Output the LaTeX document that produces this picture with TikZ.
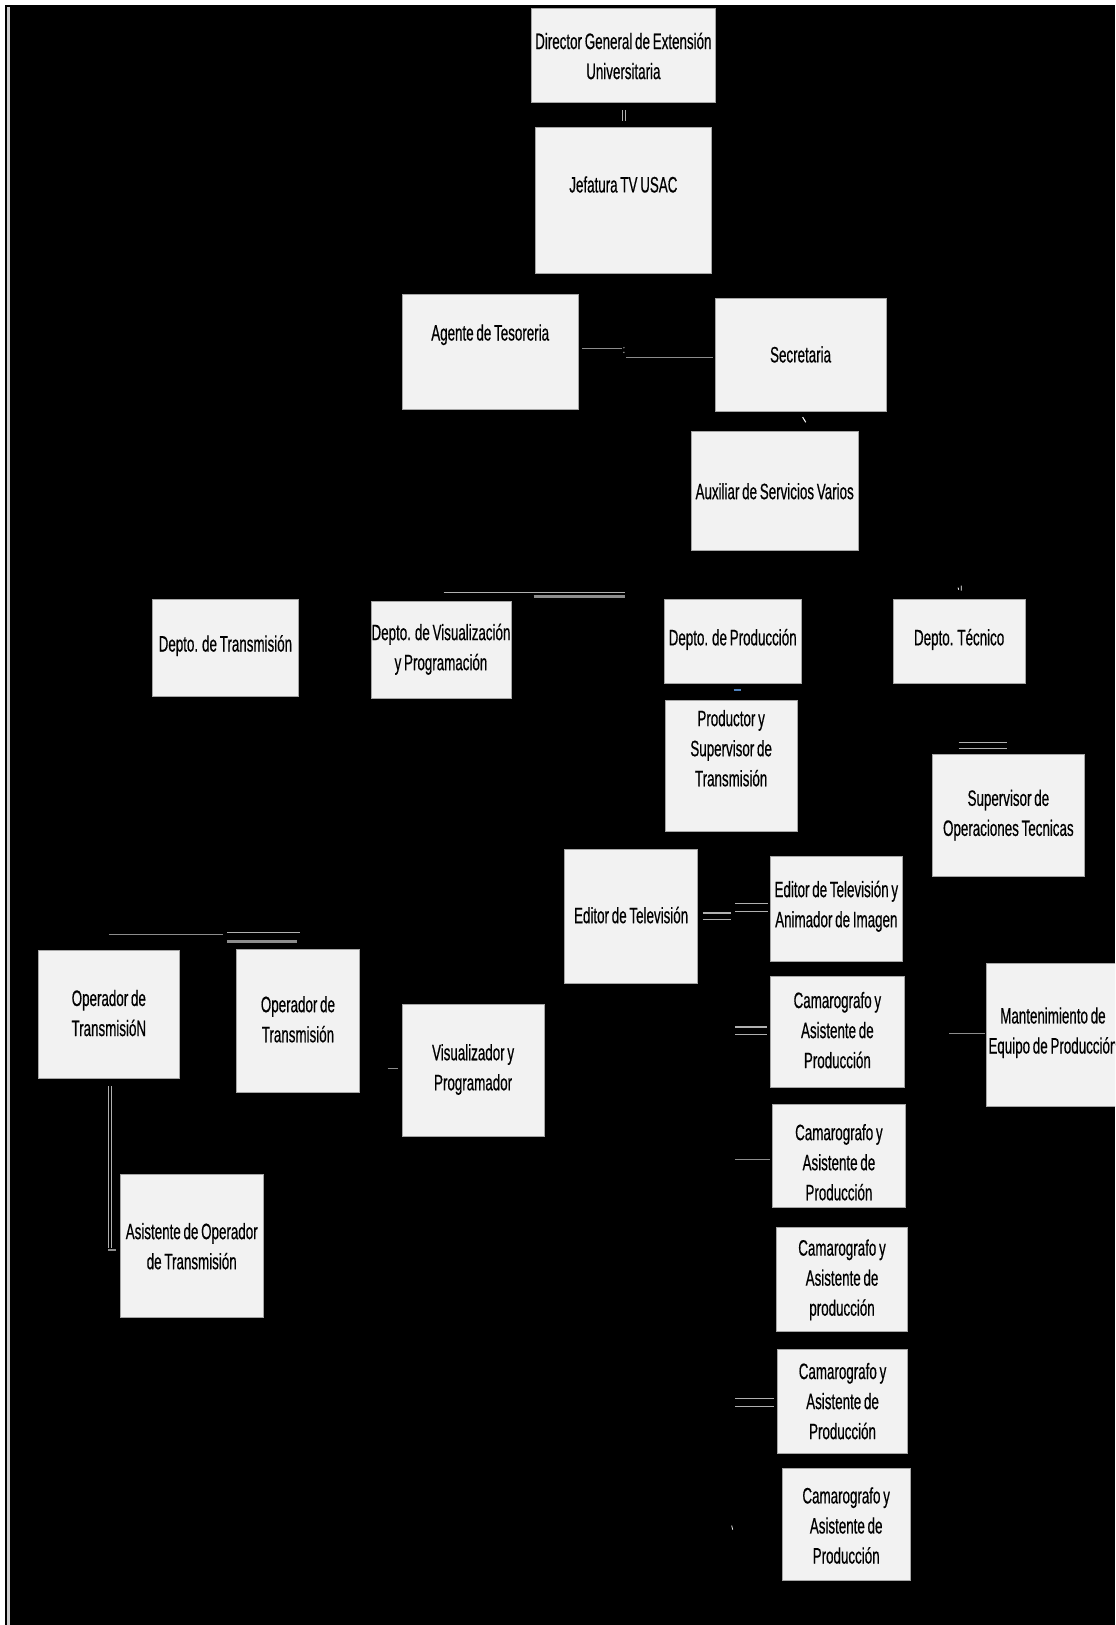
\documentclass[tikz,border=0pt]{standalone}
\usepackage{fontspec}
\setmainfont[FakeStretch=0.6,FakeBold=0.5,WordSpace=0.75]{Liberation Sans}
\usetikzlibrary{fit}
\definecolor{boxfill}{HTML}{F2F2F2}
\definecolor{boxline}{HTML}{A6A6A6}
\definecolor{fraggray}{HTML}{8C8C8C}
\definecolor{fraglight}{HTML}{B0B0B0}
\definecolor{blueish}{HTML}{4F81BD}
\tikzset{
  box/.style={draw=boxline, fill=boxfill, line width=0.8pt, inner sep=0pt, outer sep=0pt},
  txt/.style={font=\fontsize{21.5}{29}\selectfont, align=center, inner sep=0pt, text=black},
  frag/.style={draw=fraggray, line width=1.3pt},
  fraglt/.style={draw=fraglight, line width=1.1pt},
  fragthick/.style={draw=fraggray, line width=2.6pt},
  tick/.style={draw=white, line width=1pt}
}
\newcommand\orgbox[7]{%
  \node[box, fit={(#2,#3) (#4,#5)}] (#1) {};
  \node[txt] (#1t) at ({(#2+#4)/2},#6) {#7};
}
\begin{document}
\begin{tikzpicture}[x=1pt,y=-1pt]
\useasboundingbox (0,0) rectangle (1076,1568);
\clip (0,0) rectangle (1076,1568);
\fill[black] (0,0) rectangle (1076,1568);
% frame strips
\fill[white] (0,0) rectangle (1076,4.5);
\fill[white] (0,0) rectangle (4.8,1568);
\fill[black!20] (6.7,6.5) rectangle (9.3,1568);

% boxes
\orgbox{dir}{513}{8}{690}{99}{54}{Director General de Extensión\\Universitaria}
\orgbox{jef}{517}{123}{686}{264}{178}{Jefatura TV USAC}
\orgbox{age}{388}{284}{558}{395}{323}{Agente de Tesoreria}
\orgbox{sec}{690}{288}{855}{397}{342}{Secretaria}
\orgbox{aux}{667}{416}{828}{531}{474}{Auxiliar de Servicios Varios}
\orgbox{dtr}{147}{578}{288}{672}{623}{Depto. de Transmisión}
\orgbox{dvi}{358}{580}{493}{674}{626.5}{Depto. de Visualización\\y Programación}
\orgbox{dpr}{641}{578}{773}{659}{617}{Depto. de Producción}
\orgbox{dte}{862}{578}{989}{659}{617}{Depto. Técnico}
\orgbox{pro}{642}{676}{769}{802}{722}{Productor y\\Supervisor de\\Transmisión}
\orgbox{sop}{900}{728}{1046}{846}{786.5}{Supervisor de\\Operaciones Tecnicas}
\orgbox{etv}{545}{820}{673}{949}{883}{Editor de Televisión}
\orgbox{ean}{743}{826}{871}{928}{874.5}{Editor de Televisión y\\Animador de Imagen}
\orgbox{caa}{743}{942}{873}{1049}{994}{Camarografo y\\Asistente de\\Producción}
\orgbox{man}{952}{930}{1080}{1068}{996.5}{Mantenimiento de\\Equipo de Producción}
\orgbox{cab}{745}{1066}{874}{1165}{1121.5}{Camarografo y\\Asistente de\\Producción}
\orgbox{cac}{749}{1184}{876}{1285}{1235}{Camarografo y\\Asistente de\\producción}
\orgbox{cad}{750}{1302}{876}{1402}{1352}{Camarografo y\\Asistente de\\Producción}
\orgbox{cae}{755}{1417}{878}{1525}{1472}{Camarografo y\\Asistente de\\Producción}
\orgbox{opn}{37}{917}{173}{1041}{977.5}{Operador de\\TransmisióN}
\orgbox{opt}{228}{916}{347}{1054}{983.5}{Operador de\\Transmisión}
\orgbox{vis}{388}{969}{525}{1097}{1032}{Visualizador y\\Programador}
\orgbox{asi}{116}{1133}{254}{1271}{1202.5}{Asistente de Operador\\de Transmisión}

% visible connector fragments
\draw[fraglt] (600.5,106) -- (600.5,117);
\draw[fraglt] (603.5,106) -- (603.5,117);
\draw[frag] (562,336) -- (600,336);
\fill[fraggray] (602,335.5) circle (0.8) (602,340) circle (0.8);
\draw[frag] (604,345) -- (688,345);
\draw[tick] (774.5,402.5) -- (777.5,407.5);
\draw[fraglt] (428,572) -- (603,572);
\draw[fragthick] (515,575.5) -- (603,575.5);
\draw[tick, line width=0.8pt] (924.5,567) -- (925,569) (927.5,565) -- (927.5,570);
\draw[draw=blueish, line width=2pt] (708,666) -- (715,666);
\draw[fraglt] (925,716.5) -- (972,716.5);
\draw[fraglt] (925,722) -- (972,722);
\draw[fraglt] (678,881) -- (705,881);
\draw[fraglt] (678,887.5) -- (705,887.5);
\draw[fraglt] (709,872) -- (741,872);
\draw[fraglt] (709,879.5) -- (741,879.5);
\draw[fraglt] (709,991) -- (740,991);
\draw[fraglt] (709,998) -- (740,998);
\draw[frag] (916,997) -- (950,997);
\draw[frag] (709,1118.5) -- (743,1118.5);
\draw[fraglt] (709,1349.5) -- (747,1349.5);
\draw[fraglt] (709,1357) -- (747,1357);
\draw[tick, line width=0.7pt] (706,1472) -- (707,1476);
\draw[frag] (105,902) -- (215,902);
\draw[fraglt] (219,900) -- (289,900);
\draw[fragthick] (219,908.5) -- (287,908.5);
\draw[fraglt] (104.5,1048) -- (104.5,1204);
\draw[fraglt] (108,1048) -- (108,1204);
\draw[fragthick, line width=2pt] (104,1206) -- (112,1206);
\draw[frag] (374,1031) -- (384,1031);
\end{tikzpicture}
\end{document}
